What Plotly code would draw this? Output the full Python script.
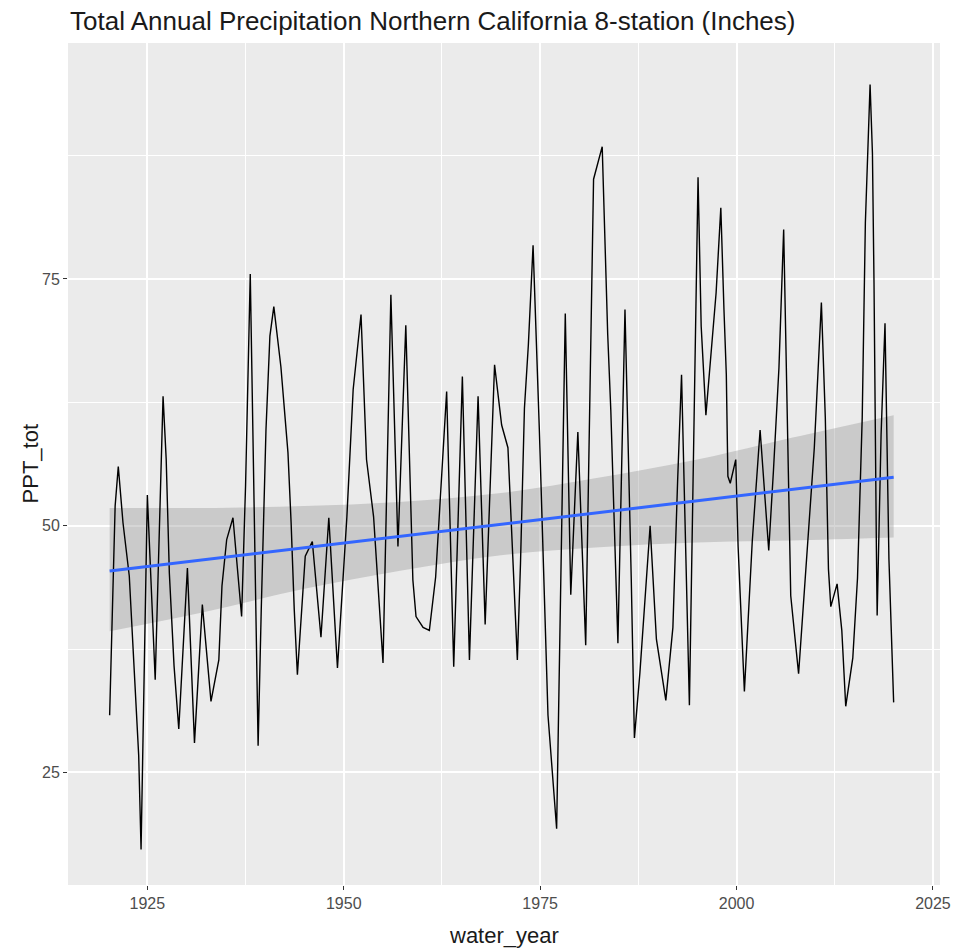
import plotly.graph_objects as go

# Precipitation line (water_year, PPT_tot)
water_year = [
    1920.2, 1920.5, 1920.9, 1921.3, 1921.9, 1922.7, 1923.4, 1923.9, 1924.2, 1924.6,
    1925.0, 1926.0, 1927.0, 1927.4, 1927.8, 1928.4, 1929.0, 1930.1, 1931.0, 1932.0,
    1933.1, 1934.1, 1934.5, 1935.1, 1935.9, 1937.0, 1937.5, 1938.1, 1938.7, 1939.1,
    1939.5, 1940.1, 1940.6, 1941.1, 1942.0, 1942.9, 1943.3, 1943.7, 1944.1, 1945.1,
    1946.0, 1947.1, 1948.1, 1949.2, 1950.4, 1951.2, 1952.2, 1952.9, 1953.8, 1955.0,
    1956.0, 1956.9, 1957.9, 1958.8, 1959.2, 1960.1, 1960.9, 1961.7, 1963.1, 1964.0,
    1965.1, 1966.0, 1967.1, 1968.0, 1969.2, 1970.1, 1970.9, 1972.1, 1972.5, 1973.0,
    1973.5, 1974.1, 1974.9, 1975.4, 1976.0, 1977.1, 1977.5, 1978.2, 1978.9, 1979.8,
    1980.8, 1981.4, 1981.8, 1982.9, 1983.3, 1983.6, 1984.0, 1984.4, 1984.9, 1985.8,
    1986.3, 1986.6, 1987.0, 1987.7, 1989.0, 1989.8, 1991.0, 1991.9, 1992.5, 1993.0,
    1994.0, 1995.1, 1995.5, 1996.1, 1997.4, 1998.0, 1998.4, 1998.7, 1998.9, 1999.2,
    1999.9, 2000.2, 2001.0, 2002.0, 2003.0, 2004.1, 2004.7, 2005.4, 2006.0, 2006.4,
    2006.9, 2007.9, 2008.3, 2009.1, 2009.9, 2010.8, 2011.3, 2011.7, 2012.0, 2012.8,
    2013.4, 2013.9, 2014.8, 2015.4, 2016.0, 2016.4, 2017.0, 2017.3, 2017.5, 2017.8,
    2017.9, 2018.4, 2018.9, 2019.4, 2019.8, 2020.0,
]
ppt_tot = [
    30.8, 40.2, 52.0, 56.0, 50.3, 44.9, 33.4, 26.7, 17.2, 35.1,
    53.1, 34.4, 63.1, 56.7, 45.2, 35.8, 29.4, 45.7, 28.0, 42.0,
    32.2, 36.4, 43.9, 48.6, 50.8, 40.8, 54.0, 75.5, 46.6, 27.7,
    41.5, 59.7, 69.2, 72.2, 66.1, 57.4, 50.3, 41.5, 34.9, 46.9,
    48.4, 38.7, 50.8, 35.6, 50.9, 63.8, 71.4, 56.7, 50.9, 36.1,
    73.4, 47.9, 70.3, 44.5, 40.8, 39.7, 39.4, 44.8, 63.6, 35.7,
    65.1, 36.4, 63.1, 40.0, 66.3, 60.2, 57.9, 36.4, 46.2, 61.9,
    68.3, 78.4, 59.7, 46.6, 30.8, 19.3, 38.9, 71.5, 43.0, 59.5,
    37.9, 67.4, 85.1, 88.4, 76.9, 69.4, 61.6, 50.4, 38.1, 71.9,
    55.4, 44.6, 28.5, 35.1, 50.0, 38.5, 32.3, 39.7, 54.5, 65.3,
    31.8, 85.3, 70.2, 61.2, 73.6, 82.2, 71.9, 65.3, 55.0, 54.3,
    56.7, 47.9, 33.2, 48.4, 59.7, 47.5, 55.6, 66.0, 80.0, 63.8,
    42.9, 35.0, 39.8, 49.3, 57.9, 72.6, 61.0, 45.6, 41.8, 44.1,
    39.4, 31.7, 36.6, 44.7, 61.0, 80.7, 94.7, 87.7, 74.6, 47.9,
    40.9, 59.2, 70.5, 46.6, 36.6, 32.1,
]

# Linear trend (geom_smooth, method = lm) and its confidence band
fit_year = [1920.2, 2020.0]
fit_value = [45.4, 54.9]
band_year = [1920.2, 1932, 1945, 1957, 1970, 1982, 1995, 2007, 2020.0]
band_lower = [39.3, 41.2, 43.6, 45.4, 47.0, 47.8, 48.3, 48.5, 48.8]
band_upper = [51.8, 51.8, 52.0, 52.4, 53.3, 54.8, 56.7, 58.9, 61.2]

title_text = "Total Annual Precipitation Northern California 8-station (Inches)"
x_title = "water_year"
y_title = "PPT_tot"

W, H = 963, 950
L, R, T, B = 68, 13, 43, 65
FONT = "Liberation Sans, Arial, Helvetica, sans-serif"

fig = go.Figure()
fig.add_trace(go.Scatter(
    x=band_year, y=band_lower, mode="lines", line=dict(width=0, shape="spline"),
    hoverinfo="skip", showlegend=False))
fig.add_trace(go.Scatter(
    x=band_year, y=band_upper, mode="lines", line=dict(width=0, shape="spline"),
    fill="tonexty", fillcolor="rgba(153,153,153,0.4)", hoverinfo="skip", showlegend=False))
fig.add_trace(go.Scatter(
    x=water_year, y=ppt_tot, mode="lines", line=dict(color="black", width=1.4),
    showlegend=False))
fig.add_trace(go.Scatter(
    x=fit_year, y=fit_value, mode="lines", line=dict(color="#3366FF", width=3),
    showlegend=False))

fig.update_layout(
    width=W, height=H,
    margin=dict(l=L, r=R, t=T, b=B, pad=0),
    paper_bgcolor="white", plot_bgcolor="#EBEBEB",
    font=dict(family=FONT, color="#4D4D4D"),
    title=dict(text=title_text, x=70 / W, xanchor="left", xref="container",
               y=1 - 21 / H, yanchor="middle", yref="container",
               font=dict(size=26, color="#1A1A1A", family=FONT)),
    showlegend=False,
)
fig.update_xaxes(
    range=[1914.9, 2025.9], tick0=1900, dtick=25, showgrid=True, gridcolor="white",
    gridwidth=1.6, zeroline=False, showline=False, ticks="outside", ticklen=4,
    tickwidth=1, tickcolor="#333333", tickfont=dict(size=16, color="#4D4D4D"),
    minor=dict(dtick=12.5, tick0=1900, showgrid=True, gridcolor="white", gridwidth=0.8, ticks=""),
)
fig.update_yaxes(
    range=[13.6, 98.9], tick0=0, dtick=25, showgrid=True, gridcolor="white",
    gridwidth=1.6, zeroline=False, showline=False, ticks="outside", ticklen=4,
    tickwidth=1, tickcolor="#333333", tickfont=dict(size=16, color="#4D4D4D"),
    minor=dict(dtick=12.5, tick0=0, showgrid=True, gridcolor="white", gridwidth=0.8, ticks=""),
)
fig.add_annotation(text=x_title, xref="paper", yref="paper", x=0.5, y=-(935 - 885) / (H - T - B),
                   xanchor="center", yanchor="middle", showarrow=False,
                   font=dict(size=22, color="#1A1A1A", family=FONT))
fig.add_annotation(text=y_title, xref="paper", yref="paper", x=-(68 - 30) / (W - L - R), y=0.5,
                   xanchor="center", yanchor="middle", showarrow=False, textangle=-90,
                   font=dict(size=22, color="#1A1A1A", family=FONT))

fig.write_html("out.html")
